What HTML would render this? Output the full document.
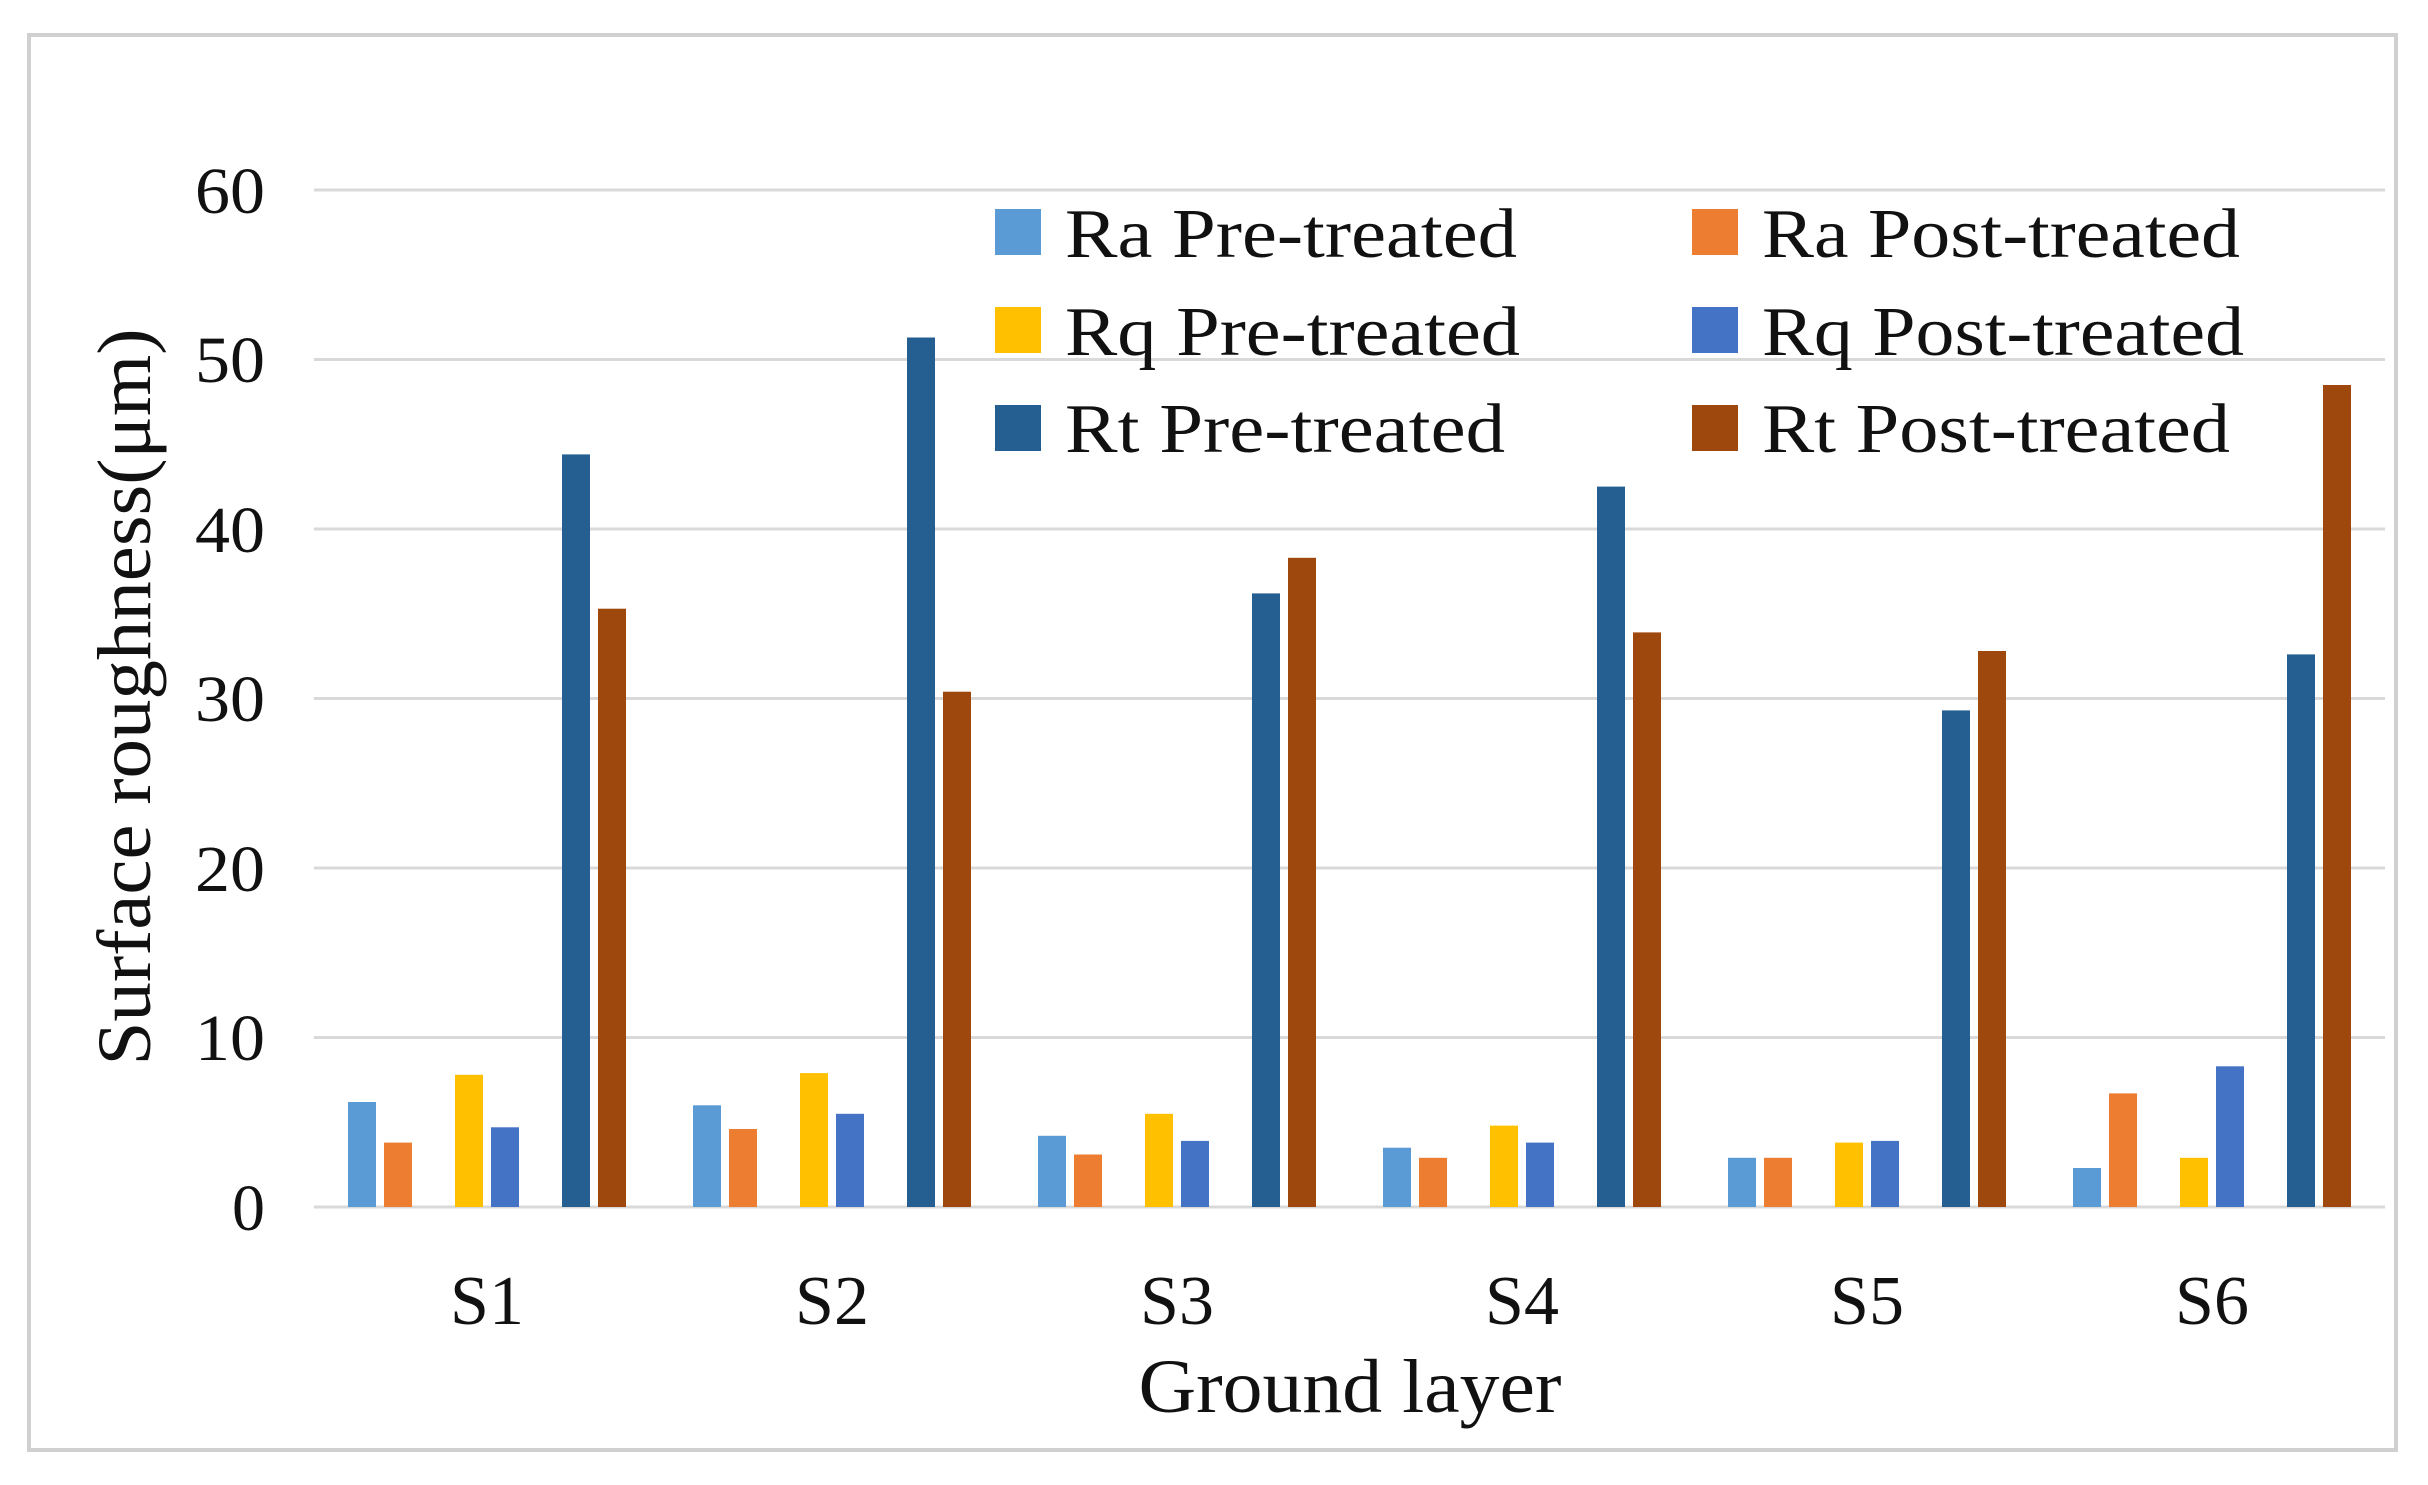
<!DOCTYPE html>
<html><head><meta charset="utf-8"><style>html,body{margin:0;padding:0;background:#fff}svg{display:block}</style></head>
<body>
<svg width="2428" height="1485" viewBox="0 0 2428 1485" xmlns="http://www.w3.org/2000/svg" font-family="'Liberation Serif', serif">
<rect x="0" y="0" width="2428" height="1485" fill="#fff"/>
<rect x="29" y="35" width="2367" height="1415" fill="none" stroke="#d0d0d0" stroke-width="4"/>
<g stroke="#d9d9d9" stroke-width="3">
<line x1="314" x2="2385" y1="190" y2="190"/>
<line x1="314" x2="2385" y1="359.5" y2="359.5"/>
<line x1="314" x2="2385" y1="529" y2="529"/>
<line x1="314" x2="2385" y1="698.5" y2="698.5"/>
<line x1="314" x2="2385" y1="868" y2="868"/>
<line x1="314" x2="2385" y1="1037.5" y2="1037.5"/>
<line x1="314" x2="2385" y1="1207" y2="1207"/>
</g>
<g font-size="66" fill="#111" text-anchor="end">
<text x="265" y="213" textLength="70" lengthAdjust="spacingAndGlyphs">60</text><text x="265" y="382" textLength="70" lengthAdjust="spacingAndGlyphs">50</text><text x="265" y="552" textLength="70" lengthAdjust="spacingAndGlyphs">40</text>
<text x="265" y="721" textLength="70" lengthAdjust="spacingAndGlyphs">30</text><text x="265" y="891" textLength="70" lengthAdjust="spacingAndGlyphs">20</text><text x="265" y="1060" textLength="70" lengthAdjust="spacingAndGlyphs">10</text><text x="265" y="1230">0</text>
</g>
<text transform="translate(150,697) rotate(-90)" font-size="76" text-anchor="middle" fill="#111" textLength="737" lengthAdjust="spacingAndGlyphs">Surface roughness(μm)</text>
<g font-size="70" fill="#111" text-anchor="middle">
<text x="487" y="1324">S1</text><text x="832" y="1324">S2</text><text x="1177" y="1324">S3</text>
<text x="1522" y="1324">S4</text><text x="1867" y="1324">S5</text><text x="2212" y="1324">S6</text>
<text x="1350" y="1412" font-size="76" textLength="423" lengthAdjust="spacingAndGlyphs">Ground layer</text>
</g>
<g font-size="70" fill="#111">
<rect x="995" y="209" width="46" height="46" fill="#5B9BD5"/><text x="1065" y="257" textLength="452" lengthAdjust="spacingAndGlyphs">Ra Pre-treated</text>
<rect x="995" y="307" width="46" height="46" fill="#FFC000"/><text x="1065" y="355" textLength="455" lengthAdjust="spacingAndGlyphs">Rq Pre-treated</text>
<rect x="995" y="405" width="46" height="46" fill="#255E91"/><text x="1065" y="452" textLength="440" lengthAdjust="spacingAndGlyphs">Rt Pre-treated</text>
<rect x="1692" y="209" width="46" height="46" fill="#ED7D31"/><text x="1762" y="257" textLength="478" lengthAdjust="spacingAndGlyphs">Ra Post-treated</text>
<rect x="1692" y="307" width="46" height="46" fill="#4472C4"/><text x="1762" y="355" textLength="482" lengthAdjust="spacingAndGlyphs">Rq Post-treated</text>
<rect x="1692" y="405" width="46" height="46" fill="#9E480E"/><text x="1762" y="452" textLength="468" lengthAdjust="spacingAndGlyphs">Rt Post-treated</text>
</g>
<g>
<rect x="348" y="1102.0" width="28" height="105.0" fill="#5B9BD5"/><rect x="384" y="1142.6" width="28" height="64.4" fill="#ED7D31"/><rect x="455" y="1074.8" width="28" height="132.2" fill="#FFC000"/><rect x="491" y="1127.3" width="28" height="79.7" fill="#4472C4"/><rect x="562" y="454.4" width="28" height="752.6" fill="#255E91"/><rect x="598" y="608.7" width="28" height="598.3" fill="#9E480E"/>
<rect x="693" y="1105.3" width="28" height="101.7" fill="#5B9BD5"/><rect x="729" y="1129.0" width="28" height="78.0" fill="#ED7D31"/><rect x="800" y="1073.1" width="28" height="133.9" fill="#FFC000"/><rect x="836" y="1113.8" width="28" height="93.2" fill="#4472C4"/><rect x="907" y="337.5" width="28" height="869.5" fill="#255E91"/><rect x="943" y="691.7" width="28" height="515.3" fill="#9E480E"/>
<rect x="1038" y="1135.8" width="28" height="71.2" fill="#5B9BD5"/><rect x="1074" y="1154.5" width="28" height="52.5" fill="#ED7D31"/><rect x="1145" y="1113.8" width="28" height="93.2" fill="#FFC000"/><rect x="1181" y="1140.9" width="28" height="66.1" fill="#4472C4"/><rect x="1252" y="593.4" width="28" height="613.6" fill="#255E91"/><rect x="1288" y="557.8" width="28" height="649.2" fill="#9E480E"/>
<rect x="1383" y="1147.7" width="28" height="59.3" fill="#5B9BD5"/><rect x="1419" y="1157.8" width="28" height="49.2" fill="#ED7D31"/><rect x="1490" y="1125.6" width="28" height="81.4" fill="#FFC000"/><rect x="1526" y="1142.6" width="28" height="64.4" fill="#4472C4"/><rect x="1597" y="486.6" width="28" height="720.4" fill="#255E91"/><rect x="1633" y="632.4" width="28" height="574.6" fill="#9E480E"/>
<rect x="1728" y="1157.8" width="28" height="49.2" fill="#5B9BD5"/><rect x="1764" y="1157.8" width="28" height="49.2" fill="#ED7D31"/><rect x="1835" y="1142.6" width="28" height="64.4" fill="#FFC000"/><rect x="1871" y="1140.9" width="28" height="66.1" fill="#4472C4"/><rect x="1942" y="710.4" width="28" height="496.6" fill="#255E91"/><rect x="1978" y="651.0" width="28" height="556.0" fill="#9E480E"/>
<rect x="2073" y="1168.0" width="28" height="39.0" fill="#5B9BD5"/><rect x="2109" y="1093.4" width="28" height="113.6" fill="#ED7D31"/><rect x="2180" y="1157.8" width="28" height="49.2" fill="#FFC000"/><rect x="2216" y="1066.3" width="28" height="140.7" fill="#4472C4"/><rect x="2287" y="654.4" width="28" height="552.6" fill="#255E91"/><rect x="2323" y="385.0" width="28" height="822.0" fill="#9E480E"/>
</g>
</svg>
</body></html>
